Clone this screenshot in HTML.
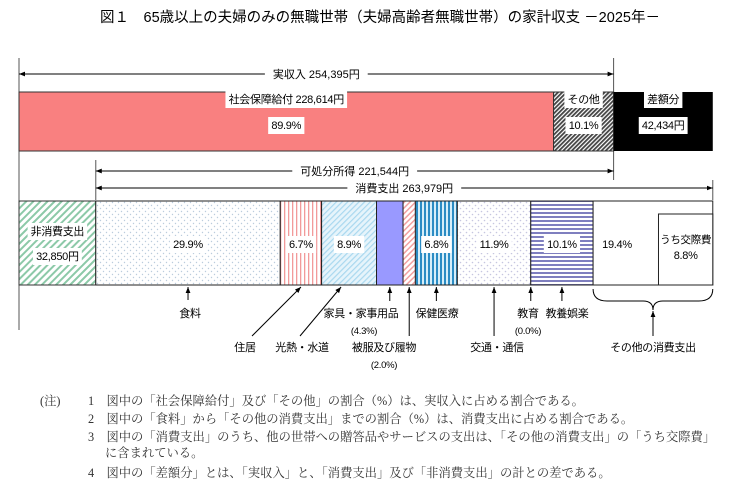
<!DOCTYPE html>
<html><head><meta charset="utf-8"><style>
body{margin:0;background:#fff}
svg{display:block;font-family:"Liberation Sans","Noto Sans CJK JP",sans-serif}
.n{font-family:"Liberation Serif","Noto Serif CJK SC",serif;font-size:12.3px;fill:#333}
</style></head><body>
<svg id="c" width="732" height="496" viewBox="0 0 732 496">
<defs>
<marker id="ah" viewBox="0 0 10 10" refX="10" refY="5" markerWidth="6" markerHeight="6" orient="auto-start-reverse"><path d="M0,1L10,5L0,9z" fill="#000"/></marker>
<pattern id="pHatch" width="3" height="3" patternUnits="userSpaceOnUse" patternTransform="rotate(45)"><rect width="3" height="3" fill="#fff"/><rect width="1.8" height="3" fill="#444"/></pattern>
<pattern id="pGreen" width="5" height="5" patternUnits="userSpaceOnUse" patternTransform="rotate(45)"><rect width="5" height="5" fill="#fff"/><rect width="2" height="5" fill="#8cc9a8"/></pattern>
<pattern id="pDots" width="6" height="6" patternUnits="userSpaceOnUse"><rect width="6" height="6" fill="#fff"/><circle cx="1.5" cy="1.5" r=".7" fill="#bcd"/><circle cx="4.5" cy="4.5" r=".7" fill="#bcd"/></pattern>
<pattern id="pRedV" width="4" height="4" patternUnits="userSpaceOnUse"><rect width="4" height="4" fill="#fff"/><rect width="1.3" height="4" fill="#f29a9a"/></pattern>
<pattern id="pBlueD" width="4" height="4" patternUnits="userSpaceOnUse" patternTransform="rotate(45)"><rect width="4" height="4" fill="#e6f4fb"/><rect width="1.2" height="4" fill="#a9d8ef"/></pattern>
<pattern id="pPinkD" width="4" height="4" patternUnits="userSpaceOnUse" patternTransform="rotate(45)"><rect width="4" height="4" fill="#fff"/><rect width="1.5" height="4" fill="#f2a0a0"/></pattern>
<pattern id="pBlueV" width="4" height="4" patternUnits="userSpaceOnUse"><rect width="4" height="4" fill="#d6eef9"/><rect width="2" height="4" fill="#2b8cc4"/></pattern>
<pattern id="pDots2" width="6" height="6" patternUnits="userSpaceOnUse"><rect width="6" height="6" fill="#fff"/><circle cx="1.5" cy="1.5" r=".8" fill="#c6c6e0"/><circle cx="4.5" cy="4.5" r=".8" fill="#c6c6e0"/></pattern>
<pattern id="pNavyH" width="4" height="4" patternUnits="userSpaceOnUse"><rect width="4" height="4" fill="#fff"/><rect width="4" height="2" fill="#7f7fbf"/></pattern>
</defs>
<text x="380" y="22" text-anchor="middle" font-size="14.5">図１　65歳以上の夫婦のみの無職世帯（夫婦高齢者無職世帯）の家計収支 －2025年－</text>
<g id="g"></g>
<g>
<text class="n" x="40" y="405">(注)</text>
<text class="n" x="88" y="405">1　図中の「社会保障給付」及び「その他」の割合（%）は、実収入に占める割合である。</text>
<text class="n" x="88" y="423">2　図中の「食料」から「その他の消費支出」までの割合（%）は、消費支出に占める割合である。</text>
<text class="n" x="88" y="441">3　図中の「消費支出」のうち、他の世帯への贈答品やサービスの支出は、「その他の消費支出」の「うち交際費」</text>
<text class="n" x="105" y="457">に含まれている。</text>
<text class="n" x="88" y="477">4　図中の「差額分」とは、「実収入」と、「消費支出」及び「非消費支出」の計との差である。</text>
</g>
</svg>
<script>
const incomeTotal = 254395;
const socialBenefit = 228614;
const incomeShares = [89.9, 10.1];
const deficit = 42434;
const disposable = 221544;
const consumption = 263979;
const nonConsumption = 32850;
const categories = ["食料","住居","光熱・水道","家具・家事用品","被服及び履物","保健医療","交通・通信","教育","教養娯楽","その他の消費支出"];
const shares = [29.9, 6.7, 8.9, 4.3, 2.0, 6.8, 11.9, 0.0, 10.1, 19.4];
const showPct = [true,true,true,false,false,true,true,false,true,true];
const socialExpShare = 8.8;

const NS="http://www.w3.org/2000/svg";
const g=document.getElementById('g');
const X0=19, K=617/consumption;
const x=v=>X0+v*K;
function el(t,a,p){const e=document.createElementNS(NS,t);for(const k in a)e.setAttribute(k,a[k]);(p||g).appendChild(e);return e;}
function txt(s,xx,yy,fs,anchor,bg){
  const t=el('text',{x:xx,y:yy,'font-size':fs||11,'text-anchor':anchor||'middle','letter-spacing':'-0.3'});t.textContent=s;
  if(bg){const w=t.getBBox().width;const r=el('rect',{x:xx-(anchor==='start'?0:w/2)-3,y:yy-fs-1,width:w+6,height:fs+6,fill:'#fff'});g.insertBefore(r,t);}
  return t;}
function arrowLine(x1,x2,y,label,name){
  const lg=el('g',{});
  
  
  el('line',{x1:x1,y1:y,x2:x2,y2:y,stroke:'#000','stroke-width':1,'marker-start':'url(#ah)','marker-end':'url(#ah)'},lg);
  const t=el('text',{x:(x1+x2)/2,y:y+4,'font-size':11,'text-anchor':'middle'},lg);t.textContent=label;
  const w=t.getBBox().width;
  const r=el('rect',{x:(x1+x2)/2-w/2-8,y:y-7,width:w+16,height:14,fill:'#fff'});lg.insertBefore(r,t);
}
const incEnd=x(incomeTotal);
const spendStart=x(nonConsumption);
const spendEnd=x(nonConsumption+consumption);
el('line',{x1:X0,y1:58,x2:X0,y2:330,stroke:'#555'});
el('line',{x1:incEnd,y1:58,x2:incEnd,y2:180,stroke:'#555'});
el('line',{x1:spendStart,y1:160,x2:spendStart,y2:200,stroke:'#555'});
el('line',{x1:spendEnd,y1:180,x2:spendEnd,y2:200,stroke:'#555'});
arrowLine(X0,incEnd,74,'実収入  '+incomeTotal.toLocaleString('en-US')+'円','income-arrow');
const yT=92,hT=59;
const sEnd=x(incomeTotal*incomeShares[0]/100);
let r=el('rect',{x:X0,y:yT,width:sEnd-X0,height:hT,fill:'#f98080',stroke:'#333'});

r=el('rect',{x:sEnd,y:yT,width:incEnd-sEnd,height:hT,fill:'url(#pHatch)',stroke:'#333'});

const dEnd=incEnd+deficit*K;
r=el('rect',{x:incEnd,y:yT,width:dEnd-incEnd,height:hT,fill:'#000'});

txt('社会保障給付  '+socialBenefit.toLocaleString('en-US')+'円',(X0+sEnd)/2,103,11,'middle',true);
txt(incomeShares[0].toFixed(1)+'%',(X0+sEnd)/2,129,11,'middle',true);
txt('その他',(sEnd+incEnd)/2,103,11,'middle',true);
txt(incomeShares[1].toFixed(1)+'%',(sEnd+incEnd)/2,129,11,'middle',true);
txt('差額分',(incEnd+dEnd)/2,103,11,'middle',true);
txt(deficit.toLocaleString('en-US')+'円',(incEnd+dEnd)/2,129,11,'middle',true);
arrowLine(spendStart,incEnd,171,'可処分所得  '+disposable.toLocaleString('en-US')+'円','disposable-income-arrow');
arrowLine(spendStart,spendEnd,188,'消費支出  '+consumption.toLocaleString('en-US')+'円','consumption-arrow');
const yB=201,hB=84;
r=el('rect',{x:X0,y:yB,width:spendStart-X0,height:hB,fill:'url(#pGreen)',stroke:'#333'});

txt('非消費支出',(X0+spendStart)/2,235,11,'middle',true);
txt(nonConsumption.toLocaleString('en-US')+'円',(X0+spendStart)/2,260,11,'middle',true);
const fills=['url(#pDots)','url(#pRedV)','url(#pBlueD)','#9999ff','url(#pPinkD)','url(#pBlueV)','url(#pDots2)','#fff','url(#pNavyH)','#fff'];
let cum=0;const cx=[],sx=[],ex=[];
shares.forEach((s,i)=>{
  const a=spendStart+cum/100*consumption*K;cum+=s;
  const b=spendStart+cum/100*consumption*K;
  sx.push(a);ex.push(b);cx.push((a+b)/2);
  const rr=el('rect',{x:a,y:yB,width:Math.max(b-a,0),height:hB,fill:fills[i],stroke:'#222'});
  
  
  if(showPct[i]){const px=i===9?a+(b-a)*0.2:(a+b)/2;txt(s.toFixed(1)+'%',px,248,11,'middle',true);}
});
const ib=spendEnd-socialExpShare/100*consumption*K;
r=el('rect',{x:ib,y:214,width:spendEnd-ib,height:hB-13,fill:'#fff',stroke:'#222'});

txt('うち交際費',(ib+spendEnd)/2,243,10.5);
txt(socialExpShare.toFixed(1)+'%',(ib+spendEnd)/2,259,11);
const labelPos=[[190,317],[245,351],[302,351],[361,317],[384,351],[437,317],[497,351],[528,317],[567,317],[653,351]];
const subPct=[null,null,null,'(4.3%)','(2.0%)',null,null,'(0.0%)',null,null];
function arr(x1,y1,x2,y2){el('line',{x1:x1,y1:y1,x2:x2,y2:y2,stroke:'#000','marker-end':'url(#ah)'});}
categories.forEach((c,i)=>{
  const [lx,ly]=labelPos[i];
  const t=txt(c,lx,ly,11);
  
  
  if(subPct[i]){const s=i===3?'('+shares[3].toFixed(1)+'%)':i===4?'('+shares[4].toFixed(1)+'%)':'('+shares[7].toFixed(1)+'%)';txt(s,lx+(i===3?3:0),ly+17,9.5);}
});
arr(cx[0],300,cx[0],287);
arr(252,336,cx[1],287);
arr(300,336,cx[2]-8,287);
arr(cx[3],301,cx[3],287);
arr(cx[4],336,cx[4],287);
arr(cx[5],301,cx[5],287);
arr(cx[6],336,cx[6],287);
arr(cx[7],301,cx[7],287);
arr(cx[8],301,cx[8],287);
const b0=sx[9],b1=spendEnd,bm=653;
el('path',{d:`M${b0},289 Q${b0},301 ${b0+14},301 L${bm-10},301 Q${bm},301 ${bm},310 Q${bm},301 ${bm+10},301 L${b1-14},301 Q${b1},301 ${b1},289`,fill:'none',stroke:'#000'});
arr(bm,336,bm,311);
</script>
</body></html>
